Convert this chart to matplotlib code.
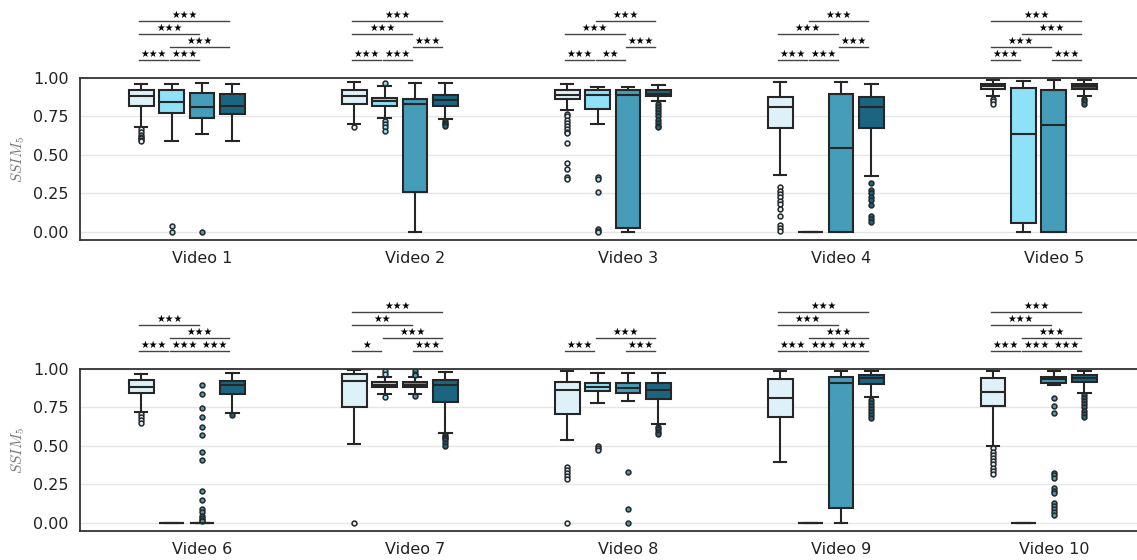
import matplotlib
matplotlib.use('Agg')
import matplotlib.pyplot as plt

plt.rcParams['mathtext.fontset'] = 'cm'

colors = ['#dff1f8', '#8fe1f7', '#469db9', '#1b6580']
edge = '#262626'

videos = ['Video %d' % i for i in range(1, 11)]

# per video: 4 methods
medians = [
    [0.883, 0.843, 0.811, 0.820], [0.883, 0.850, 0.833, 0.854],
    [0.891, 0.891, 0.887, 0.898], [0.811, 0.000, 0.543, 0.811],
    [0.948, 0.637, 0.698, 0.948], [0.886, 0.000, 0.000, 0.894],
    [0.924, 0.898, 0.898, 0.896], [0.864, 0.886, 0.879, 0.864],
    [0.814, 0.000, 0.911, 0.940], [0.853, 0.000, 0.933, 0.944],
]
q1 = [
    [0.815, 0.772, 0.741, 0.763], [0.833, 0.815, 0.261, 0.820],
    [0.865, 0.796, 0.024, 0.883], [0.674, 0.000, 0.000, 0.674],
    [0.930, 0.061, 0.000, 0.930], [0.842, 0.000, 0.000, 0.836],
    [0.752, 0.881, 0.881, 0.788], [0.706, 0.857, 0.847, 0.803],
    [0.691, 0.000, 0.097, 0.901], [0.760, 0.000, 0.911, 0.918],
]
q3 = [
    [0.920, 0.920, 0.902, 0.898], [0.924, 0.870, 0.865, 0.887],
    [0.924, 0.920, 0.920, 0.920], [0.876, 0.000, 0.893, 0.876],
    [0.963, 0.935, 0.924, 0.961], [0.929, 0.000, 0.000, 0.924],
    [0.965, 0.914, 0.918, 0.929], [0.918, 0.911, 0.907, 0.911],
    [0.937, 0.000, 0.950, 0.961], [0.944, 0.000, 0.948, 0.961],
]
whis_lo = [
    [0.685, 0.593, 0.637, 0.593], [0.702, 0.739, 0.000, 0.735],
    [0.789, 0.702, 0.000, 0.850], [0.370, 0.000, 0.000, 0.361],
    [0.880, 0.000, 0.000, 0.885], [0.724, 0.000, 0.000, 0.713],
    [0.514, 0.836, 0.836, 0.583], [0.540, 0.778, 0.795, 0.644],
    [0.395, 0.000, 0.000, 0.816], [0.501, 0.000, 0.896, 0.847],
]
whis_hi = [
    [0.958, 0.958, 0.967, 0.958], [0.972, 0.946, 0.967, 0.967],
    [0.963, 0.941, 0.941, 0.957], [0.972, 0.000, 0.972, 0.959],
    [0.985, 0.980, 0.985, 0.985], [0.965, 0.000, 0.000, 0.974],
    [0.994, 0.946, 0.946, 0.981], [0.987, 0.976, 0.976, 0.976],
    [0.987, 0.000, 0.987, 0.987], [0.987, 0.000, 0.987, 0.987],
]
outliers = [
    [[0.67, 0.65, 0.63, 0.62, 0.61, 0.60, 0.59], [0.04, 0.0], [0.0], []],
    [[0.685], [0.967, 0.724, 0.702, 0.68, 0.659], [], [0.724, 0.71, 0.70, 0.69]],
    [[0.767, 0.75, 0.73, 0.71, 0.69, 0.67, 0.65, 0.64, 0.576, 0.448, 0.409, 0.354, 0.343],
     [0.354, 0.343, 0.257, 0.017, 0.007, 0.0], [],
     [0.83, 0.81, 0.79, 0.77, 0.75, 0.73, 0.71, 0.69, 0.68]],
    [[0.293, 0.267, 0.246, 0.224, 0.202, 0.185, 0.148, 0.104, 0.046, 0.028, 0.007], [], [],
     [0.315, 0.272, 0.25, 0.228, 0.207, 0.176, 0.104, 0.083, 0.067]],
    [[0.865, 0.85, 0.83], [], [], [0.865, 0.85, 0.83]],
    [[0.708, 0.69, 0.67, 0.65], [],
     [0.894, 0.838, 0.747, 0.691, 0.622, 0.572, 0.462, 0.41, 0.205, 0.147, 0.091, 0.069,
      0.048, 0.032, 0.022, 0.011], [0.70]],
    [[0.0], [0.99, 0.97, 0.821], [0.99, 0.97, 0.96, 0.825], [0.572, 0.56, 0.55, 0.54, 0.52, 0.50]],
    [[0.363, 0.346, 0.324, 0.302, 0.285, 0.0], [0.497, 0.486, 0.471], [0.328, 0.091, 0.0],
     [0.626, 0.61, 0.59, 0.58]],
    [[], [], [], [0.80, 0.78, 0.76, 0.74, 0.72, 0.70, 0.68]],
    [[0.486, 0.46, 0.44, 0.42, 0.40, 0.38, 0.36, 0.34, 0.32],
     [], [0.81, 0.76, 0.717, 0.324, 0.31, 0.29, 0.227, 0.21, 0.194, 0.13, 0.11, 0.09, 0.07, 0.054],
     [0.83, 0.81, 0.79, 0.77, 0.75, 0.73, 0.71, 0.69]],
]

# significance bars: (box a, box b, level, n stars)
sig = [
    [(0, 1, 0, 3), (1, 2, 0, 3), (1, 3, 1, 3), (0, 2, 2, 3), (0, 3, 3, 3)],
    [(0, 1, 0, 3), (1, 2, 0, 3), (2, 3, 1, 3), (0, 2, 2, 3), (0, 3, 3, 3)],
    [(0, 1, 0, 3), (1, 2, 0, 2), (2, 3, 1, 3), (0, 2, 2, 3), (1, 3, 3, 3)],
    [(0, 1, 0, 3), (1, 2, 0, 3), (2, 3, 1, 3), (0, 2, 2, 3), (1, 3, 3, 3)],
    [(0, 1, 0, 3), (2, 3, 0, 3), (0, 2, 1, 3), (1, 3, 2, 3), (0, 3, 3, 3)],
    [(0, 1, 0, 3), (1, 2, 0, 3), (2, 3, 0, 3), (1, 3, 1, 3), (0, 2, 2, 3)],
    [(0, 1, 0, 1), (2, 3, 0, 3), (1, 3, 1, 3), (0, 2, 2, 2), (0, 3, 3, 3)],
    [(0, 1, 0, 3), (2, 3, 0, 3), (1, 3, 1, 3)],
    [(0, 1, 0, 3), (1, 2, 0, 3), (2, 3, 0, 3), (1, 3, 1, 3), (0, 2, 2, 3), (0, 3, 3, 3)],
    [(0, 1, 0, 3), (1, 2, 0, 3), (2, 3, 0, 3), (1, 3, 1, 3), (0, 2, 2, 3), (0, 3, 3, 3)],
]

step = 0.143
box_w = 0.117


def draw_row(ax, idx):
    for h in range(4):
        stats = []
        pos = []
        for k, v in enumerate(idx):
            stats.append(dict(med=medians[v][h], q1=q1[v][h], q3=q3[v][h],
                              whislo=whis_lo[v][h], whishi=whis_hi[v][h],
                              fliers=outliers[v][h]))
            pos.append(k + (h - 2) * step)
        ax.bxp(stats, positions=pos, widths=box_w, capwidths=box_w * 0.5,
               patch_artist=True, manage_ticks=False,
               boxprops=dict(facecolor=colors[h], edgecolor=edge, linewidth=1.5),
               medianprops=dict(color=edge, linewidth=1.5),
               whiskerprops=dict(color=edge, linewidth=1.5),
               capprops=dict(color=edge, linewidth=1.5),
               flierprops=dict(marker='o', markersize=3.5, markerfacecolor=colors[h],
                               markeredgecolor=edge, markeredgewidth=1.1))

    # significance bars above the axes
    for k, v in enumerate(idx):
        for a, b, lev, n in sig[v]:
            xa = k + (a - 2) * step
            xb = k + (b - 2) * step
            y = 1.117 + 0.0844 * lev
            ax.plot([xa - 0.008, xb - 0.016], [y, y], color='#444444', lw=1, clip_on=False)
            ax.text((xa + xb) / 2 - 0.012, y + 0.006, '\u2605' * n, ha='center', va='bottom',
                    fontsize=7, color='black', clip_on=False)

    ax.set_xlim(-0.573, 4.39)
    ax.set_ylim(-0.052, 1.0)
    ax.set_xticks(range(len(idx)))
    ax.set_xticklabels([videos[v] for v in idx])
    ax.set_yticks([0, 0.25, 0.5, 0.75, 1.0])
    ax.set_yticklabels(['0.00', '0.25', '0.50', '0.75', '1.00'])
    ax.tick_params(length=0, labelsize=11.5, pad=8, colors='#222222')
    ax.yaxis.grid(True, color='#e6e6e6', lw=1)
    ax.set_axisbelow(True)
    for s in ['top', 'bottom', 'left']:
        ax.spines[s].set_color('#333333')
        ax.spines[s].set_linewidth(1.3)
    ax.spines['right'].set_visible(False)
    ax.set_ylabel('$SSIM_5$', fontsize=11, color='#777777')
    ax.yaxis.set_label_coords(-0.05, 0.5)


fig = plt.figure(figsize=(11.37, 5.6), dpi=100)
ax_top = fig.add_axes([80 / 1137, 1 - 240 / 560, 1 - 80 / 1137, 162 / 560])
ax_bot = fig.add_axes([80 / 1137, 1 - 531 / 560, 1 - 80 / 1137, 162 / 560])
draw_row(ax_top, [0, 1, 2, 3, 4])
draw_row(ax_bot, [5, 6, 7, 8, 9])

fig.savefig('out.png', dpi=100)
